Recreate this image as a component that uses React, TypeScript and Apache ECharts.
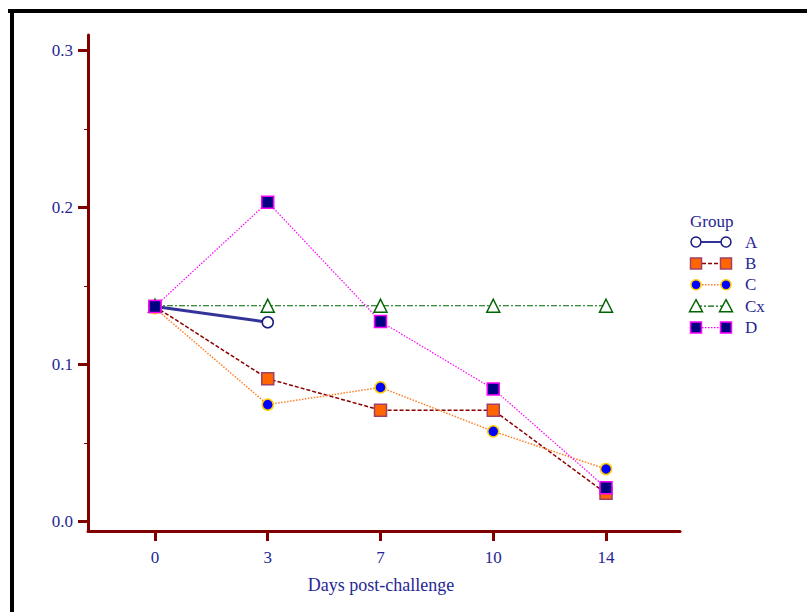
import React, { useEffect, useRef } from "react";
import * as echarts from "echarts";

const categories = ["0", "3", "7", "10", "14"];
const groupNames = ["A", "B", "C", "Cx", "D"];
const valuesA = [0.137, 0.127];
const valuesB = [0.137, 0.091, 0.071, 0.071, 0.018];
const valuesC = [0.136, 0.0745, 0.0855, 0.0575, 0.0335];
const valuesCx = [0.1375, 0.1375, 0.1375, 0.1375, 0.1375];
const valuesD = [0.137, 0.2035, 0.1275, 0.0845, 0.0215];
const yTicks = [0, 0.1, 0.2, 0.3];
const yMinorTicks = [0.05, 0.15, 0.25];
const xTicks = [0, 1, 2, 3, 4];

const FONT = '"Liberation Serif", "Times New Roman", serif';
const TEXT = "#262693";
const AXIS = "#800000";

type Sty = {
  lineColor: string;
  lineWidth: number;
  lineType: any;
  symbol: string;
  size: number;
  fill: string;
  border: string;
  borderWidth: number;
};

const styles: Sty[] = [
  { lineColor: "#333399", lineWidth: 3, lineType: "solid", symbol: "circle", size: 11, fill: "#ffffff", border: "#1a1a80", borderWidth: 1.5 },
  { lineColor: "#8b0000", lineWidth: 1.5, lineType: [4, 2], symbol: "rect", size: 12, fill: "#ff6600", border: "#a0406a", borderWidth: 1.5 },
  { lineColor: "#ff7f27", lineWidth: 1.5, lineType: [1.5, 1.5], symbol: "circle", size: 11, fill: "#0000ff", border: "#ffcc00", borderWidth: 1.5 },
  { lineColor: "#006400", lineWidth: 1.2, lineType: [6, 2, 2, 2], symbol: "triangle", size: 13, fill: "#ffffff", border: "#006400", borderWidth: 1.5 },
  { lineColor: "#ff00ff", lineWidth: 1.2, lineType: [1.5, 1.5], symbol: "rect", size: 12, fill: "#000080", border: "#ff00ff", borderWidth: 1.5 },
];

const allValues = [valuesA, valuesB, valuesC, valuesCx, valuesD];

function legendMarker(s: Sty, cx: number, cy: number): any {
  const style = { fill: s.fill, stroke: s.border, lineWidth: s.borderWidth };
  const h = s.size / 2;
  if (s.symbol === "circle") return { type: "circle", shape: { cx, cy, r: h - 0.5 }, style, z: 10 };
  if (s.symbol === "rect") return { type: "rect", shape: { x: cx - h + 0.5, y: cy - h + 0.5, width: s.size - 1, height: s.size - 1 }, style, z: 10 };
  return {
    type: "polygon",
    shape: { points: [[cx, cy - h], [cx + h, cy + h - 1], [cx - h, cy + h - 1]] },
    style,
    z: 10,
  };
}

export default function App() {
  const ref = useRef<HTMLDivElement>(null);
  useEffect(() => {
    if (!ref.current) return;
    const chart = echarts.init(ref.current, null, { renderer: "svg" });

    const legendEls: any[] = [
      { type: "text", x: 690, y: 221, style: { text: "Group", font: `17px ${FONT}`, fill: TEXT, verticalAlign: "middle" } },
    ];
    groupNames.forEach((name, i) => {
      const s = styles[i];
      const cy = 242 + i * 21.4;
      legendEls.push({
        type: "line",
        shape: { x1: 696, y1: cy, x2: 726, y2: cy },
        style: { stroke: s.lineColor, lineWidth: s.lineWidth === 3 ? 2 : s.lineWidth, lineDash: s.lineType === "solid" ? null : s.lineType },
        z: 5,
      });
      legendEls.push(legendMarker(s, 696, cy));
      legendEls.push(legendMarker(s, 726, cy));
      legendEls.push({ type: "text", x: 745, y: cy, style: { text: name, font: `17px ${FONT}`, fill: TEXT, verticalAlign: "middle" } });
    });

    const frame: any[] = [
      { type: "line", shape: { x1: 8, y1: 11, x2: 807, y2: 11 }, style: { stroke: "#000", lineWidth: 4 } },
      { type: "line", shape: { x1: 12, y1: 9, x2: 12, y2: 612 }, style: { stroke: "#000", lineWidth: 4 } },
    ];

    chart.setOption({
      animation: false,
      backgroundColor: "#ffffff",
      grid: { left: 88, top: 35, width: 592, height: 496, containLabel: false },
      xAxis: {
        type: "value",
        min: -0.594,
        max: 4.656,
        name: "Days post-challenge",
        nameLocation: "middle",
        nameGap: 45,
        nameTextStyle: { fontFamily: FONT, fontSize: 18, color: TEXT, padding: [0, 6, 0, 0] },
        axisLine: { onZero: false, lineStyle: { color: AXIS, width: 3 } },
        axisTick: { customValues: xTicks, length: 10, lineStyle: { color: AXIS, width: 3 } },
        axisLabel: {
          customValues: xTicks,
          margin: 18,
          fontFamily: FONT,
          fontSize: 17,
          color: TEXT,
          formatter: (v: number) => categories[Math.round(v)] ?? "",
        },
        splitLine: { show: false },
      },
      yAxis: [
        {
          type: "value",
          min: -0.006,
          max: 0.31,
          axisLine: { onZero: false, lineStyle: { color: AXIS, width: 3 } },
          axisTick: { customValues: yTicks, length: 10, lineStyle: { color: AXIS, width: 3 } },
          axisLabel: {
            customValues: yTicks,
            margin: 15,
            fontFamily: FONT,
            fontSize: 17,
            color: TEXT,
            formatter: (v: number) => v.toFixed(1),
          },
          splitLine: { show: false },
        },
        {
          type: "value",
          min: -0.006,
          max: 0.31,
          position: "left",
          axisLine: { show: false, onZero: false },
          axisTick: { customValues: yMinorTicks, length: 4, lineStyle: { color: AXIS, width: 1 } },
          axisLabel: { show: false },
          splitLine: { show: false },
        },
      ],
      series: groupNames.map((name, i) => {
        const s = styles[i];
        return {
          name,
          type: "line",
          data: allValues[i].map((v, j) => [j, v]),
          symbol: s.symbol,
          symbolSize: s.size,
          lineStyle: { color: s.lineColor, width: s.lineWidth, type: s.lineType },
          itemStyle: { color: s.fill, borderColor: s.border, borderWidth: s.borderWidth },
          z: 2 + i,
        };
      }),
      graphic: [...frame, ...legendEls],
    });
    return () => chart.dispose();
  }, []);
  return <div ref={ref} style={{ position: "absolute", left: 0, top: 0, width: 807, height: 612 }} />;
}
